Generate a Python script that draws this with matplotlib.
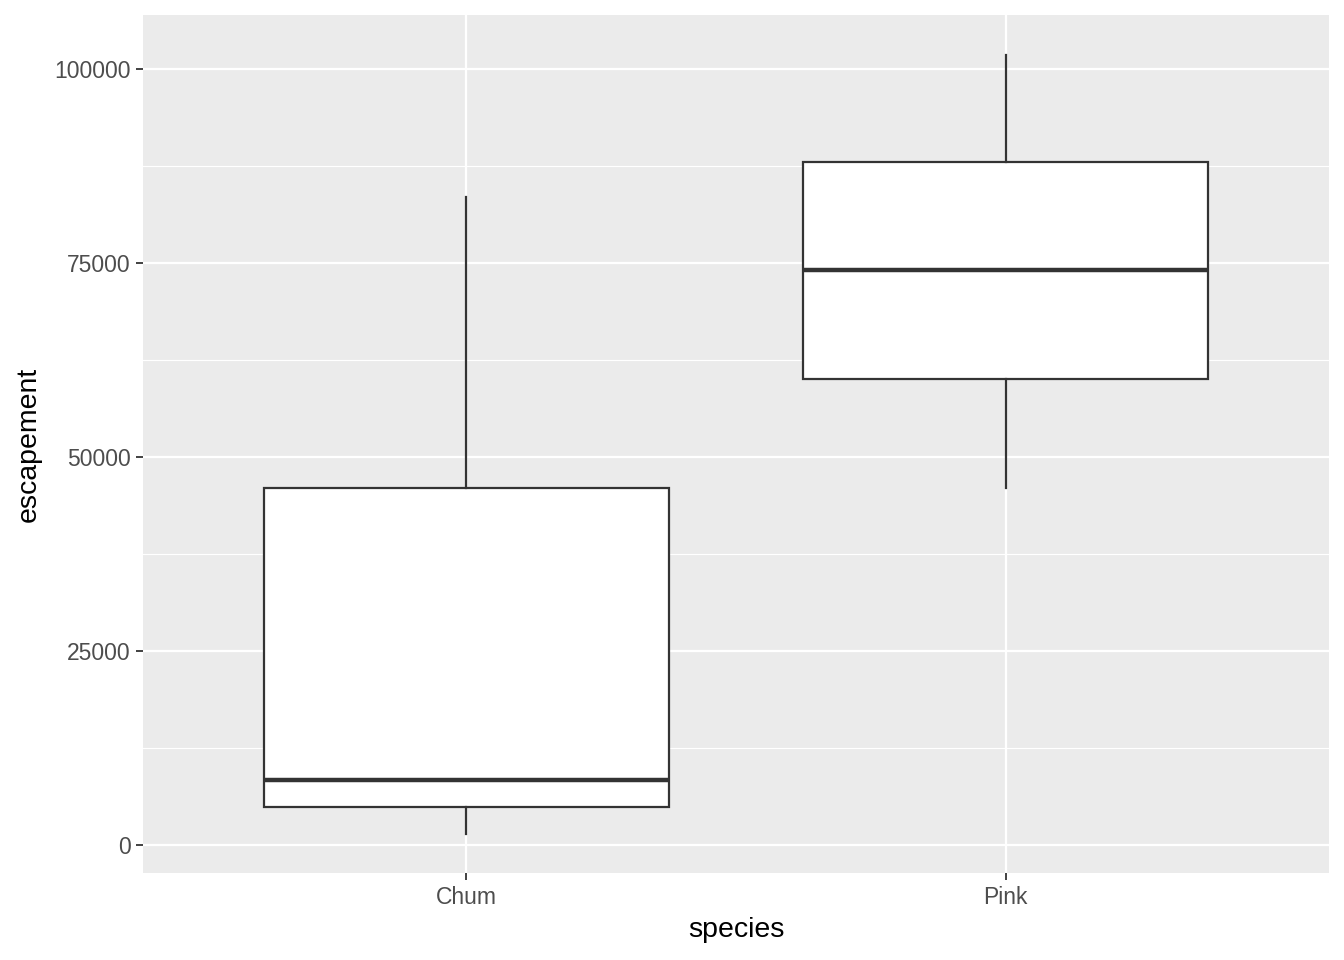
import matplotlib
matplotlib.use("Agg")
import matplotlib.pyplot as plt

# Box summary values
species = ["Chum", "Pink"]
whisker_low = [1400, 46000]
q1 = [4900, 60000]
median = [8400, 74100]
q3 = [46000, 88000]
whisker_high = [83500, 101800]

y_ticks = [0, 25000, 50000, 75000, 100000]
y_minor = [12500, 37500, 62500, 87500]

plt.rcParams["font.family"] = ["Liberation Sans", "DejaVu Sans"]

fig = plt.figure(figsize=(13.44, 9.6), dpi=100)
ax = fig.add_axes([143 / 1344, 87 / 960, 1186 / 1344, 858 / 960])
ax.set_facecolor("#EBEBEB")
for s in ax.spines.values():
    s.set_visible(False)

# Grid lines
for y in y_minor:
    ax.axhline(y, color="white", lw=0.8, zorder=0)
for y in y_ticks:
    ax.axhline(y, color="white", lw=1.6, zorder=0)
for x in [1, 2]:
    ax.axvline(x, color="white", lw=1.6, zorder=0)

stats = []
for i, name in enumerate(species):
    stats.append({
        "label": name,
        "whislo": whisker_low[i],
        "q1": q1[i],
        "med": median[i],
        "q3": q3[i],
        "whishi": whisker_high[i],
        "fliers": [],
    })

dark = "#333333"
ax.bxp(stats, positions=[1, 2], widths=0.75, patch_artist=True,
       showcaps=False, showfliers=False,
       boxprops=dict(facecolor="white", edgecolor=dark, linewidth=1.6),
       whiskerprops=dict(color=dark, linewidth=1.6),
       medianprops=dict(color=dark, linewidth=3.2, solid_capstyle="butt"),
       zorder=2)

ax.set_xlim(0.4, 2.6)
ax.set_ylim(-3608, 106960)
ax.set_xticks([1, 2])
ax.set_xticklabels(species)
ax.set_yticks(y_ticks)
ax.set_yticklabels([str(v) for v in y_ticks])
ax.tick_params(axis="both", colors="#333333", length=5, width=1.3,
               labelsize=16.5, labelcolor="#4D4D4D", pad=4)

ax.set_xlabel("species", fontsize=20.5, color="black", labelpad=6)
ax.set_ylabel("escapement", fontsize=20.5, color="black", labelpad=9)

fig.savefig("out.png", dpi=100)
